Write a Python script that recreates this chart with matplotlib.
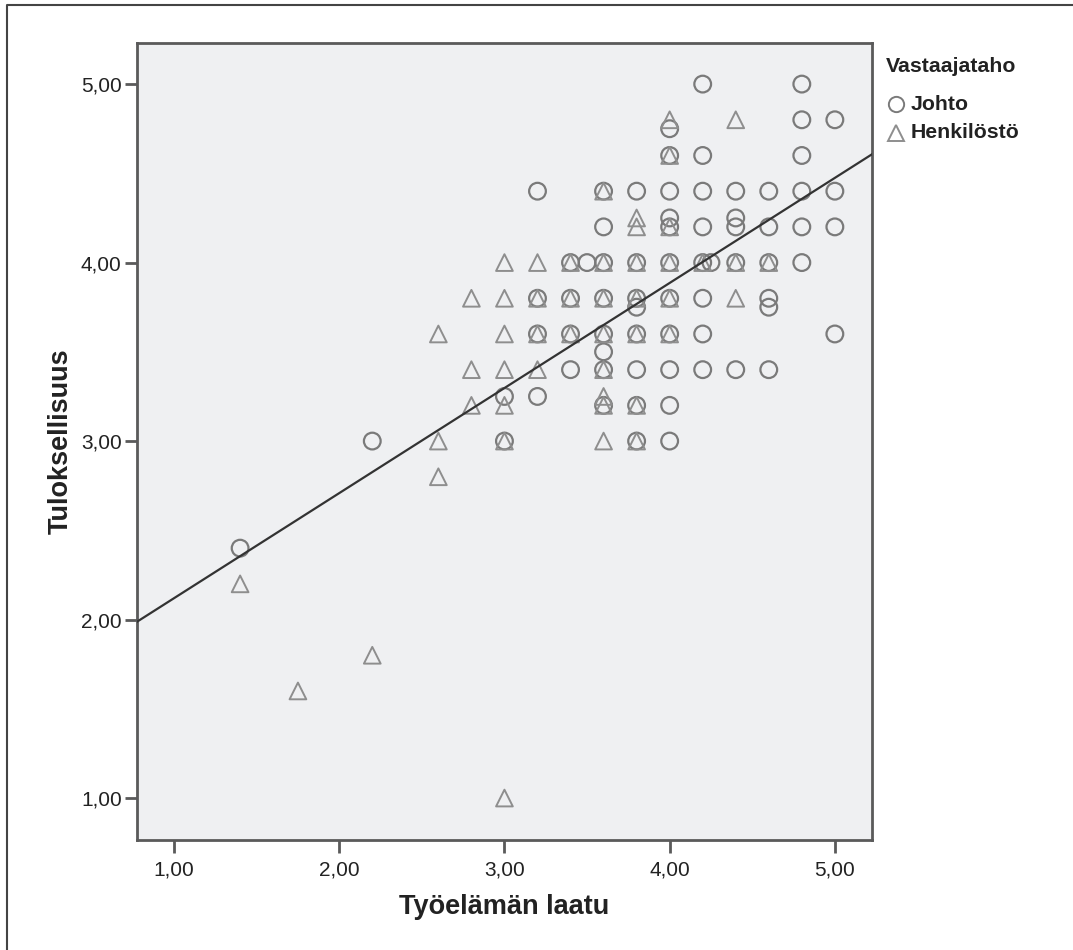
import numpy as np
import matplotlib
matplotlib.use('Agg')
import matplotlib.pyplot as plt
from matplotlib.lines import Line2D

plt.rcParams['font.family'] = ['Liberation Sans', 'DejaVu Sans']

## Johto (ympyrät)
johto_x = [4.2, 4.8,
           4.8, 5.0,
           4.0,
           4.0, 4.2, 4.8,
           3.2, 3.6, 3.8, 4.0, 4.2, 4.4, 4.6, 4.8, 5.0,
           4.0, 4.4,
           3.6, 4.0, 4.2, 4.4, 4.6, 4.8, 5.0,
           3.4, 3.5, 3.6, 3.8, 4.0, 4.2, 4.25, 4.4, 4.6, 4.8,
           3.2, 3.4, 3.6, 3.8, 4.0, 4.2, 4.6,
           3.8, 4.6,
           3.2, 3.4, 3.6, 3.8, 4.0, 4.2, 5.0,
           3.6,
           3.4, 3.6, 3.8, 4.0, 4.2, 4.4, 4.6,
           3.0, 3.2,
           3.6, 3.8, 4.0,
           3.0, 3.8, 4.0,
           2.2, 1.4]
johto_y = [5.0, 5.0,
           4.8, 4.8,
           4.75,
           4.6, 4.6, 4.6,
           4.4, 4.4, 4.4, 4.4, 4.4, 4.4, 4.4, 4.4, 4.4,
           4.25, 4.25,
           4.2, 4.2, 4.2, 4.2, 4.2, 4.2, 4.2,
           4.0, 4.0, 4.0, 4.0, 4.0, 4.0, 4.0, 4.0, 4.0, 4.0,
           3.8, 3.8, 3.8, 3.8, 3.8, 3.8, 3.8,
           3.75, 3.75,
           3.6, 3.6, 3.6, 3.6, 3.6, 3.6, 3.6,
           3.5,
           3.4, 3.4, 3.4, 3.4, 3.4, 3.4, 3.4,
           3.25, 3.25,
           3.2, 3.2, 3.2,
           3.0, 3.0, 3.0,
           3.0, 2.4]

## Henkilöstö (kolmiot)
henk_x = [4.0, 4.4,
          4.0,
          3.6,
          3.8,
          3.8, 4.0,
          3.0, 3.2, 3.4, 3.6, 3.8, 4.0, 4.2, 4.4, 4.6,
          2.8, 3.0, 3.2, 3.4, 3.6, 3.8, 4.0, 4.4,
          2.6, 3.0, 3.2, 3.4, 3.6, 3.8, 4.0,
          2.8, 3.0, 3.2, 3.6,
          3.6,
          2.8, 3.0, 3.6, 3.8,
          2.6, 3.0, 3.6, 3.8,
          2.6,
          1.4, 2.2, 1.75, 3.0]
henk_y = [4.8, 4.8,
          4.6,
          4.4,
          4.25,
          4.2, 4.2,
          4.0, 4.0, 4.0, 4.0, 4.0, 4.0, 4.0, 4.0, 4.0,
          3.8, 3.8, 3.8, 3.8, 3.8, 3.8, 3.8, 3.8,
          3.6, 3.6, 3.6, 3.6, 3.6, 3.6, 3.6,
          3.4, 3.4, 3.4, 3.4,
          3.25,
          3.2, 3.2, 3.2, 3.2,
          3.0, 3.0, 3.0, 3.0,
          2.8,
          2.2, 1.8, 1.6, 1.0]

## Sovitesuora (kokonaisaineisto)
fit_a = 1.531
fit_b = 0.5887

xticks = [1.0, 2.0, 3.0, 4.0, 5.0]
yticks = [1.0, 2.0, 3.0, 4.0, 5.0]

fig = plt.figure(figsize=(10.73, 9.5), dpi=100)
ax = fig.add_axes([0.1277, 0.1158, 0.8124 - 0.1277, 0.9547 - 0.1158])
ax.set_facecolor('#eff0f2')

xlim = (0.776, 5.223)
ylim = (0.765, 5.23)

ax.scatter(johto_x, johto_y, s=145, marker='o', facecolors='none',
           edgecolors='#7a7a7a', linewidths=1.6, zorder=3)
ax.scatter(henk_x, henk_y, s=145, marker='^', facecolors='none',
           edgecolors='#8e8e8e', linewidths=1.4, zorder=3)

xx = np.array(xlim)
ax.plot(xx, fit_a + fit_b * xx, color='#333333', lw=1.6, zorder=4)

ax.set_xlim(*xlim)
ax.set_ylim(*ylim)
ax.set_xticks(xticks)
ax.set_yticks(yticks)
# pilkku desimaalierottimena
ax.set_xticklabels([('%.2f' % v).replace('.', ',') for v in xticks])
ax.set_yticklabels([('%.2f' % v).replace('.', ',') for v in yticks])

for s in ax.spines.values():
    s.set_color('#5a5a5a')
    s.set_linewidth(2)
ax.tick_params(axis='both', direction='out', length=9, width=2,
               color='#5a5a5a', labelsize=15, labelcolor='#222222')
ax.tick_params(axis='x', pad=6)
ax.tick_params(axis='y', pad=2)

ax.set_xlabel('Työelämän laatu', fontsize=19.5, fontweight='bold', labelpad=10, color='#222222')
ax.set_ylabel('Tuloksellisuus', fontsize=19.5, fontweight='bold', labelpad=5, color='#222222')

## Selite
fig.text(886 / 1073, 1 - 67 / 950, 'Vastaajataho', fontsize=15.3, fontweight='bold',
         va='center', ha='left', color='#222222')
leg_items = [('o', 'Johto', 104, '#7a7a7a'), ('^', 'Henkilöstö', 133, '#8e8e8e')]
for mk, lab, ypx, col in leg_items:
    fig.add_artist(Line2D([896 / 1073], [1 - ypx / 950], marker=mk, markersize=11,
                          markerfacecolor='none', markeredgecolor=col,
                          markeredgewidth=1.4, linestyle='none',
                          transform=fig.transFigure))
    fig.text(911 / 1073, 1 - ypx / 950, lab, fontsize=15.3, fontweight='bold',
             va='center', ha='left', color='#222222')

## Kehys
fig.add_artist(Line2D([7 / 1073, 7 / 1073, 1.0], [0.0, 1 - 5 / 950, 1 - 5 / 950],
                      color='#444444', lw=1.5, transform=fig.transFigure))

fig.savefig('out.png', dpi=100)
